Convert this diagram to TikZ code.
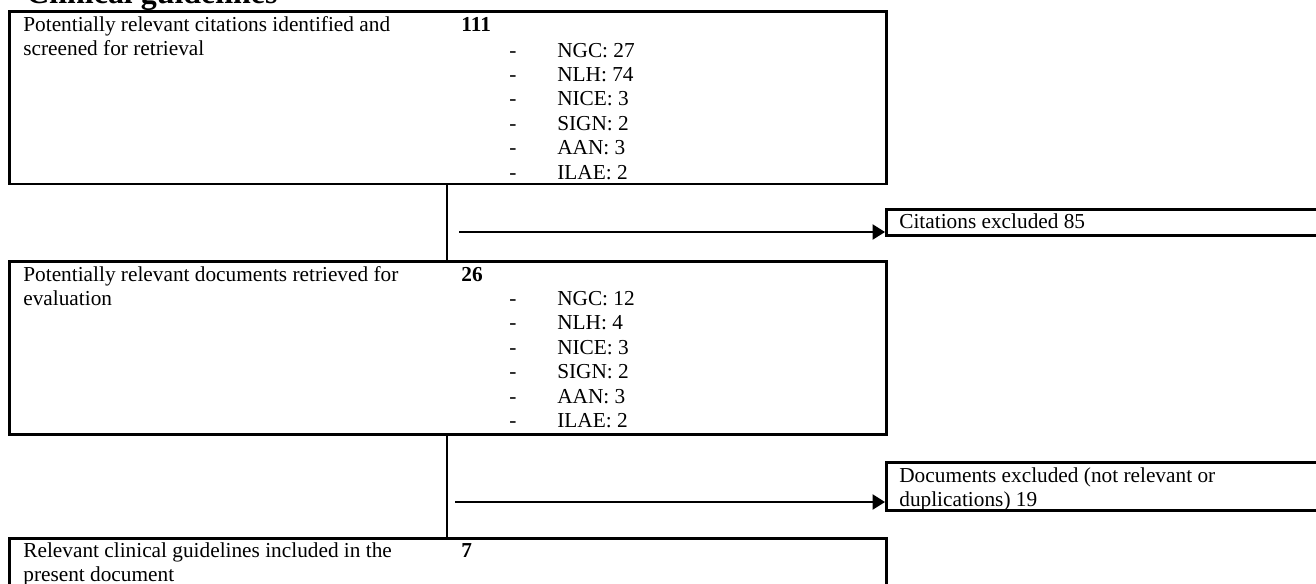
\documentclass[tikz,border=0pt]{standalone}
\usepackage{fontspec}
\setmainfont{Liberation Serif}
\usetikzlibrary{arrows.meta}

\begin{document}
\begin{tikzpicture}[x=0.5634pt, y=-0.5634pt,
    box/.style={draw, line width=1.5pt, inner sep=0pt, anchor=north west},
    txt/.style={inner sep=0pt, anchor=base west, align=left, font=\fontsize{12pt}{13.75pt}\selectfont},
    num/.style={txt, font=\fontsize{12pt}{13.75pt}\selectfont\bfseries},
    link/.style={line width=0.8pt},
    arr/.style={line width=1.1pt, -{Triangle[length=7pt,width=8.5pt]}}]
  \clip (0,0) rectangle (1316,583);
  % heading, cut at the top
  \node[inner sep=0pt, anchor=base west, font=\fontsize{18pt}{20pt}\selectfont\bfseries] (title) at (26,3.5) {Clinical guidelines};

  % main boxes
  \node[box, minimum width=494.1pt, minimum height=97.2pt] (boxA) at (8,10) {};
  \node[box, minimum width=494.1pt, minimum height=97.5pt] (boxB) at (8,260) {};
  \node[box, minimum width=494.1pt, minimum height=40pt] (boxC) at (8,537) {};
  % side boxes
  \node[box, minimum width=250.7pt, minimum height=14.65pt] (exA) at (885,208) {};
  \node[box, minimum width=250.7pt, minimum height=27pt] (exB) at (885,461) {};

  % texts (two-line texts sit on their last line)
  \node[txt] (tA) at (23,55.4) {Potentially relevant citations identified and\\screened for retrieval};
  \node[num] (nA) at (461,31) {111};
  \node[txt] (lstA) at (509,57) {\begin{tabular}[t]{@{}p{27pt}@{}l@{}}
    - & NGC: 27\\ - & NLH: 74\\ - & NICE: 3\\ - & SIGN: 2\\ - & AAN: 3\\ - & ILAE: 2
  \end{tabular}};

  \node[txt] (tB) at (23,305.4) {Potentially relevant documents retrieved for\\evaluation};
  \node[num] (nB) at (461,281) {26};
  \node[txt] (lstB) at (509,305.5) {\begin{tabular}[t]{@{}p{27pt}@{}l@{}}
    - & NGC: 12\\ - & NLH: 4\\ - & NICE: 3\\ - & SIGN: 2\\ - & AAN: 3\\ - & ILAE: 2
  \end{tabular}};

  \node[txt] (tC) at (23,581.4) {Relevant clinical guidelines included in the\\present document};
  \node[num] (nC) at (461,557) {7};

  \node[txt] (eA) at (899,228) {Citations excluded 85};
  \node[txt] (eB) at (899,506.4) {Documents excluded (not relevant or\\duplications) 19};

  % connectors
  \coordinate (col) at (447,0);
  \coordinate (s1) at (459,232);
  \coordinate (s2) at (455,502);
  \draw[link] (boxA.south -| col) -- (boxB.north -| col);
  \draw[link] (boxB.south -| col) -- (boxC.north -| col);
  \draw[arr] (s1) -- (s1 -| exA.west);
  \draw[arr] (s2) -- (s2 -| exB.west);
\end{tikzpicture}
\end{document}
